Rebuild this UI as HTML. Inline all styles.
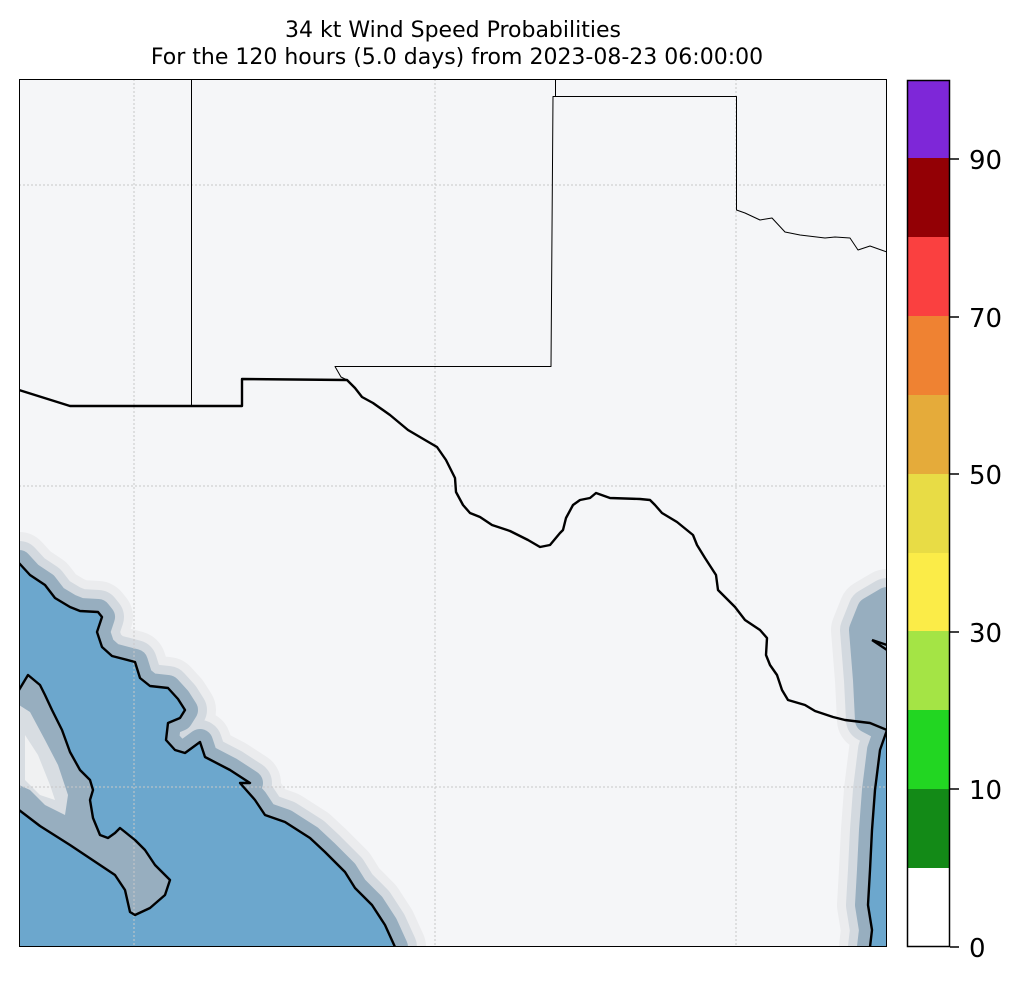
<!DOCTYPE html>
<html><head><style>
body{margin:0;background:#fff;width:1024px;height:984px;overflow:hidden;font-family:"DejaVu Sans","Liberation Sans",sans-serif;}
</style></head><body>
<svg width="1024" height="984" viewBox="0 0 1024 984" xmlns="http://www.w3.org/2000/svg">
<text x="453" y="37" font-size="22" text-anchor="middle" font-family="DejaVu Sans, sans-serif">34 kt Wind Speed Probabilities</text>
<text x="457" y="64" font-size="22" text-anchor="middle" font-family="DejaVu Sans, sans-serif">For the 120 hours (5.0 days) from 2023-08-23 06:00:00</text>
<defs><clipPath id="c"><rect x="19" y="79" width="868" height="868"/></clipPath></defs>
<rect x="19" y="79" width="868" height="868" fill="#f5f6f8"/>
<g clip-path="url(#c)" stroke-linejoin="round">
<g id="lo">
<path id="lop" d="M19,563 L30,575 45,585 55,598 70,607 80,611 98,612 102,617 97,632 102,647 112,656 135,662 140,678 150,686 168,688 178,699 185,710 180,718 168,723 166,740 175,750 185,753 200,742 205,757 230,770 250,783 240,783 255,800 265,815 285,822 310,838 325,852 345,872 355,888 372,905 385,925 395,947 19,947 Z"/>
</g>
<use href="#lop" fill="none" stroke="#ebecee" stroke-width="62"/>
<use href="#lop" fill="none" stroke="#d3d9df" stroke-width="44"/>
<use href="#lop" fill="#97aebf" stroke="#97aebf" stroke-width="26"/>
<use href="#lop" fill="#6ca7cd" stroke="none"/>
<path d="M19,810 L40,826 70,845 100,865 115,875 125,890 130,912 135,915 150,908 165,895 170,880 155,865 145,850 135,840 120,828 115,833 108,838 100,835 93,818 90,800 93,790 90,780 80,770 70,752 62,730 52,710 45,695 40,685 28,675 19,690 Z" fill="#97aebf"/>
<path d="M19,705 L30,712 45,740 58,765 68,795 65,815 45,805 30,790 19,785 Z" fill="#d8dde2"/>
<path d="M25,735 L38,755 50,785 55,800 40,795 25,780 Z" fill="#f0f1f2"/>
<path id="rop" d="M887,600 L870,610 862,630 866,680 868,720 887,730 880,750 875,790 872,830 870,870 868,905 872,930 870,947 900,947 900,600 Z"/>
<use href="#rop" fill="none" stroke="#ebecee" stroke-width="62"/>
<use href="#rop" fill="none" stroke="#d3d9df" stroke-width="44"/>
<use href="#rop" fill="#97aebf" stroke="#97aebf" stroke-width="26"/>
<path d="M887,730 L880,750 875,790 872,830 870,870 868,905 872,930 870,947 890,947 890,730 Z" fill="#6ca7cd"/>
<g stroke="#c8c8c8" stroke-width="1" stroke-dasharray="2,2">
<line x1="134" y1="79" x2="134" y2="947"/><line x1="435" y1="79" x2="435" y2="947"/><line x1="736" y1="79" x2="736" y2="947"/>
<line x1="19" y1="185" x2="887" y2="185"/><line x1="19" y1="486" x2="887" y2="486"/><line x1="19" y1="787" x2="887" y2="787"/>
</g>
<g fill="none" stroke="#000" stroke-width="2.4">
<path d="M19,563 L30,575 45,585 55,598 70,607 80,611 98,612 102,617 97,632 102,647 112,656 135,662 140,678 150,686 168,688 178,699 185,710 180,718 168,723 166,740 175,750 185,753 200,742 205,757 230,770 250,783 240,783 255,800 265,815 285,822 310,838 325,852 345,872 355,888 372,905 385,925 395,947"/>
<path d="M19,810 L40,826 70,845 100,865 115,875 125,890 130,912 135,915 150,908 165,895 170,880 155,865 145,850 135,840 120,828 115,833 108,838 100,835 93,818 90,800 93,790 90,780 80,770 70,752 62,730 52,710 45,695 40,685 28,675 19,690"/>
<path d="M887,730 L880,750 875,790 872,830 870,870 868,905 872,930 870,947"/>
<path d="M872,640 L887,650 M872,640 L887,645"/>
<path d="M19,390 L70,406 242,406 242,379 347,380 355,388 362,397 373,403 390,415 408,430 425,440 437,447 446,460 455,478 456,492 463,505 470,513 480,517 492,525 510,531 528,540 540,547 550,545 560,533 563,530 566,518 573,505 580,500 590,498 596,493 610,498 640,499 650,500 655,505 662,513 677,522 693,535 697,545 705,558 716,575 718,590 725,597 735,607 745,620 760,630 767,638 766,655 770,665 777,675 782,690 788,700 805,705 815,711 833,717 845,720 870,723 887,730"/>
</g>
<g fill="none" stroke="#000" stroke-width="1">
<path d="M191.5,79 L191.5,406"/>
<path d="M347,380 L341,377 335,366.5 551,366.5 553,96.5 736.5,96.5 736.5,210 745,213 760,220 772,218 785,232 800,235 825,238 835,237 850,238 858,250 870,246 887,252"/>
<path d="M555.5,79 L555.5,96"/>
</g>
</g>
<rect x="19.5" y="79.5" width="867" height="867" fill="none" stroke="#000" stroke-width="1"/>
<g>
<rect x="907" y="868" width="43" height="79" fill="#ffffff"/>
<rect x="907" y="789" width="43" height="79" fill="#138a17"/>
<rect x="907" y="710" width="43" height="79" fill="#22d622"/>
<rect x="907" y="631" width="43" height="79" fill="#a4e445"/>
<rect x="907" y="552" width="43" height="79" fill="#fbec48"/>
<rect x="907" y="474" width="43" height="79" fill="#e8dc45"/>
<rect x="907" y="395" width="43" height="79" fill="#e5ab3a"/>
<rect x="907" y="316" width="43" height="79" fill="#ef8232"/>
<rect x="907" y="237" width="43" height="79" fill="#fa4040"/>
<rect x="907" y="158" width="43" height="79" fill="#930005"/>
<rect x="907" y="80" width="43" height="78" fill="#7e27d8"/>
<rect x="907.5" y="80.5" width="42" height="866" fill="none" stroke="#000" stroke-width="1.5"/>
<g stroke="#000" stroke-width="1.5">
<line x1="950" y1="947" x2="959" y2="947"/><line x1="950" y1="789" x2="959" y2="789"/><line x1="950" y1="632" x2="959" y2="632"/><line x1="950" y1="474" x2="959" y2="474"/><line x1="950" y1="317" x2="959" y2="317"/><line x1="950" y1="159" x2="959" y2="159"/>
</g>
<g font-size="26" font-family="DejaVu Sans, sans-serif">
<text x="969" y="957">0</text><text x="969" y="799">10</text><text x="969" y="642">30</text><text x="969" y="484">50</text><text x="969" y="327">70</text><text x="969" y="169">90</text>
</g>
</g>
</svg>
</body></html>
